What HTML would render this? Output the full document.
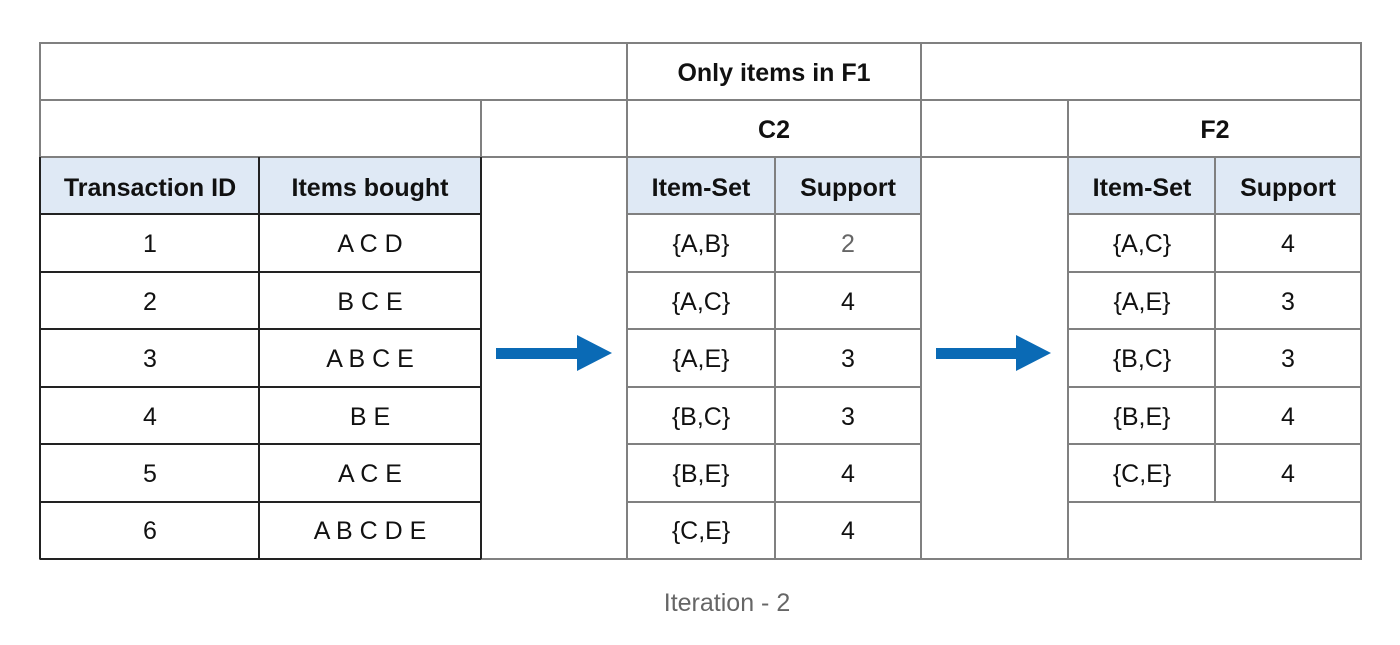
<!DOCTYPE html>
<html><head><meta charset="utf-8"><style>
html,body{margin:0;padding:0;background:#fff;width:1400px;height:645px;overflow:hidden}
svg text{font-family:"Liberation Sans",sans-serif;text-anchor:middle;dominant-baseline:central;fill:#111}
.b{font-weight:bold;font-size:25px}
.n{font-size:25px}
</style></head><body>
<svg width="1400" height="645" xmlns="http://www.w3.org/2000/svg">
<rect x="41" y="158" width="440" height="56" fill="#dfe9f5"/>
<rect x="628" y="158" width="293" height="56" fill="#dfe9f5"/>
<rect x="1069" y="158" width="292" height="56" fill="#dfe9f5"/>
<g stroke="#808080" stroke-width="2" fill="none">
<rect x="40" y="43" width="1321" height="516"/>
<line x1="40" y1="100" x2="1361" y2="100"/>
<line x1="627" y1="43" x2="627" y2="559"/>
<line x1="921" y1="43" x2="921" y2="559"/>
<line x1="40" y1="157" x2="1361" y2="157"/>
<line x1="481" y1="100" x2="481" y2="157"/>
<line x1="1068" y1="100" x2="1068" y2="559"/>
<line x1="627" y1="214" x2="921" y2="214"/>
<line x1="1068" y1="214" x2="1361" y2="214"/>
<line x1="627" y1="272" x2="921" y2="272"/>
<line x1="627" y1="329" x2="921" y2="329"/>
<line x1="627" y1="387" x2="921" y2="387"/>
<line x1="627" y1="444" x2="921" y2="444"/>
<line x1="627" y1="502" x2="921" y2="502"/>
<line x1="775" y1="157" x2="775" y2="559"/>
<line x1="1068" y1="272" x2="1361" y2="272"/>
<line x1="1068" y1="329" x2="1361" y2="329"/>
<line x1="1068" y1="387" x2="1361" y2="387"/>
<line x1="1068" y1="444" x2="1361" y2="444"/>
<line x1="1068" y1="502" x2="1361" y2="502"/>
<line x1="1215" y1="157" x2="1215" y2="502"/>
</g>
<g stroke="#222" stroke-width="2" fill="none">
<line x1="40" y1="157" x2="40" y2="559"/>
<line x1="481" y1="157" x2="481" y2="559"/>
<line x1="259" y1="157" x2="259" y2="559"/>
<line x1="40" y1="214" x2="481" y2="214"/>
<line x1="40" y1="272" x2="481" y2="272"/>
<line x1="40" y1="329" x2="481" y2="329"/>
<line x1="40" y1="387" x2="481" y2="387"/>
<line x1="40" y1="444" x2="481" y2="444"/>
<line x1="40" y1="502" x2="481" y2="502"/>
<line x1="40" y1="559" x2="481" y2="559"/>
</g>
<g fill="#0a6ab5">
<rect x="496" y="348" width="82" height="11"/><polygon points="577,335 612,353 577,371"/>
<rect x="936" y="348" width="81" height="11"/><polygon points="1016,335 1051,353 1016,371"/>
</g>
<text class="b" x="774" y="73">Only items in F1</text>
<text class="b" x="774" y="130">C2</text>
<text class="b" x="1215" y="130">F2</text>
<text class="b" x="150" y="188">Transaction ID</text>
<text class="b" x="370" y="188">Items bought</text>
<text class="b" x="701" y="188">Item-Set</text>
<text class="b" x="848" y="188">Support</text>
<text class="b" x="1142" y="188">Item-Set</text>
<text class="b" x="1288" y="188">Support</text>
<g class="n">
<text x="150" y="244">1</text><text x="370" y="244">A C D</text>
<text x="150" y="302">2</text><text x="370" y="302">B C E</text>
<text x="150" y="359">3</text><text x="370" y="359">A B C E</text>
<text x="150" y="417">4</text><text x="370" y="417">B E</text>
<text x="150" y="474">5</text><text x="370" y="474">A C E</text>
<text x="150" y="531">6</text><text x="370" y="531">A B C D E</text>
<text x="701" y="244">{A,B}</text><text x="848" y="244" style="fill:#666">2</text>
<text x="701" y="302">{A,C}</text><text x="848" y="302">4</text>
<text x="701" y="359">{A,E}</text><text x="848" y="359">3</text>
<text x="701" y="417">{B,C}</text><text x="848" y="417">3</text>
<text x="701" y="474">{B,E}</text><text x="848" y="474">4</text>
<text x="701" y="531">{C,E}</text><text x="848" y="531">4</text>
<text x="1142" y="244">{A,C}</text><text x="1288" y="244">4</text>
<text x="1142" y="302">{A,E}</text><text x="1288" y="302">3</text>
<text x="1142" y="359">{B,C}</text><text x="1288" y="359">3</text>
<text x="1142" y="417">{B,E}</text><text x="1288" y="417">4</text>
<text x="1142" y="474">{C,E}</text><text x="1288" y="474">4</text>
</g>
<text x="727" y="603" style="font-size:25px;fill:#666">Iteration - 2</text>
</svg>
</body></html>
